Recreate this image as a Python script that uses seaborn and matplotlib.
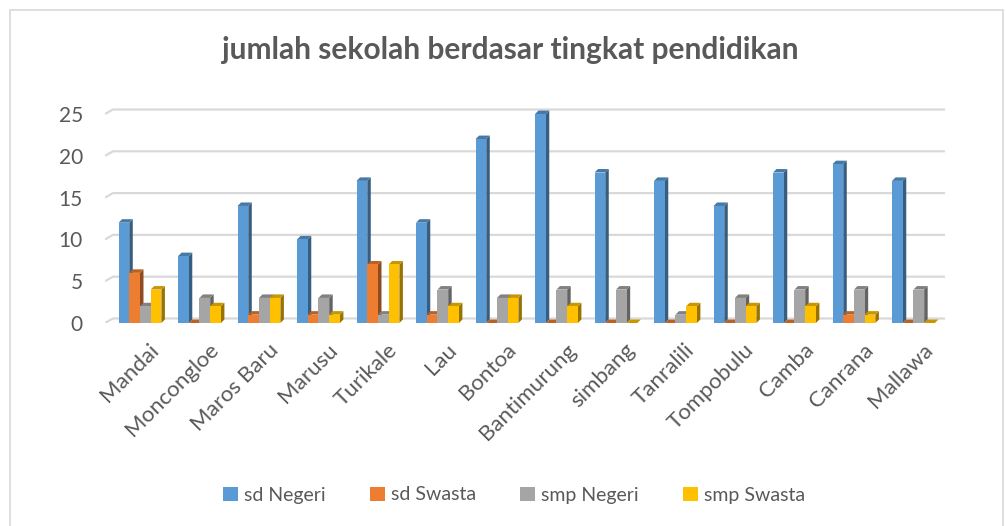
import matplotlib
matplotlib.use("Agg")
import matplotlib.pyplot as plt
import matplotlib.colors as mcolors
from matplotlib.patches import Polygon, Rectangle
from matplotlib.transforms import ScaledTranslation
import seaborn as sns
import pandas as pd

kecamatan = ["Mandai", "Moncongloe", "Maros Baru", "Marusu", "Turikale", "Lau",
             "Bontoa", "Bantimurung", "simbang", "Tanralili", "Tompobulu",
             "Camba", "Canrana", "Mallawa"]
sd_negeri = [12, 8, 14, 10, 17, 12, 22, 25, 18, 17, 14, 18, 19, 17]
sd_swasta = [6, 0, 1, 1, 7, 1, 0, 0, 0, 0, 0, 0, 1, 0]
smp_negeri = [2, 3, 3, 3, 1, 4, 3, 4, 4, 1, 3, 4, 4, 4]
smp_swasta = [4, 2, 3, 1, 7, 2, 3, 2, 0, 2, 2, 2, 1, 0]
series_names = ["sd Negeri", "sd Swasta", "smp Negeri", "smp Swasta"]
palette = ["#5B9BD5", "#ED7D31", "#A5A5A5", "#FFC000"]
y_ticks = [0, 5, 10, 15, 20, 25]
title = "jumlah sekolah berdasar tingkat pendidikan"

rows = []
for name, vals in zip(series_names, [sd_negeri, sd_swasta, smp_negeri, smp_swasta]):
    for k, v in zip(kecamatan, vals):
        rows.append({"kecamatan": k, "jenis": name, "jumlah": v})
df = pd.DataFrame(rows)

sns.set_theme(style="white")
plt.rcParams["font.family"] = ["Lato", "DejaVu Sans"]

W, H = 1006, 526
fig = plt.figure(figsize=(W / 100, H / 100), dpi=100)

# plot area in pixels: front floor at y=323, value 25 at y=114
px_per_unit = (323 - 114) / 25
y_top = 26
ax_left, ax_right = 105, 945
ax_bottom = 323
ax_height = y_top * px_per_unit
ax = fig.add_axes([ax_left / W, (H - ax_bottom) / H,
                   (ax_right - ax_left) / W, ax_height / H])

sns.barplot(data=df, x="kecamatan", y="jumlah", hue="jenis", order=kecamatan,
            hue_order=series_names, palette=palette, width=0.72, saturation=1,
            ax=ax, legend=False, zorder=3)

x0, x1 = -0.588, 13.53
ax.set_xlim(x0, x1)
ax.set_ylim(0, y_top)

# pseudo-3D depth: darker side and top faces behind each front face
depth_x = 3.5 / 59.5
depth_y = 3.5 / px_per_unit
for i, name in enumerate(series_names):
    base = mcolors.to_rgb(palette[i])
    side = tuple(c * 0.6 for c in base)
    top = tuple(c * 0.78 for c in base)
    for bar in ax.containers[i]:
        x = bar.get_x()
        w = bar.get_width()
        h = bar.get_height()
        bar.set_edgecolor("none")
        ax.add_patch(Polygon([(x + w, 0), (x + w + depth_x, depth_y),
                              (x + w + depth_x, h + depth_y), (x + w, h)],
                             closed=True, facecolor=side, edgecolor="none", zorder=2.8))
        ax.add_patch(Polygon([(x, h), (x + depth_x, h + depth_y),
                              (x + w + depth_x, h + depth_y), (x + w, h)],
                             closed=True, facecolor=top, edgecolor="none", zorder=2.8))

# gridlines on the back wall, with a short slanted floor edge at the left
back_dx = 8 / 59.5
back_dy = 4.5 / px_per_unit
for t in y_ticks:
    ax.plot([x0, x0 + back_dx, x1], [t, t + back_dy, t + back_dy],
            color="#D9D9D9", lw=1.6, zorder=1, solid_capstyle="butt")

ax.set_yticks(y_ticks)
ax.set_yticklabels([str(t) for t in y_ticks], fontsize=15, color="#595959")
ax.tick_params(axis="y", length=0, pad=16)
ax.tick_params(axis="x", length=0, pad=12)
ax.set_xticks(range(len(kecamatan)))
ax.set_xticklabels(kecamatan, rotation=45, ha="right", rotation_mode="anchor",
                   fontsize=16, color="#595959")
shift = ScaledTranslation(9 / 100, 0, fig.dpi_scale_trans)
for lab in ax.get_xticklabels():
    lab.set_transform(lab.get_transform() + shift)
ax.set_xlabel("")
ax.set_ylabel("")
for s in ax.spines.values():
    s.set_visible(False)

fig.text(510 / W, 1 - 50 / H, title, ha="center", va="center", fontsize=21.5,
         fontweight="bold", color="#595959")

# outer chart frame
fig.patches.append(Rectangle((10 / W, -0.02), (1003 - 10) / W, 1 - 10 / H + 0.02,
                             transform=fig.transFigure, facecolor="none",
                             edgecolor="#D9D9D9", lw=1.2))

handles = [Rectangle((0, 0), 1, 1, facecolor=c, edgecolor="none") for c in palette]
fig.legend(handles, series_names, loc="center", bbox_to_anchor=(514 / W, 1 - 495 / H),
           ncol=4, frameon=False, fontsize=14, handlelength=0.75, handleheight=0.75,
           handletextpad=0.3, columnspacing=2.3, labelcolor="#595959")

fig.savefig("out.png", dpi=100)
